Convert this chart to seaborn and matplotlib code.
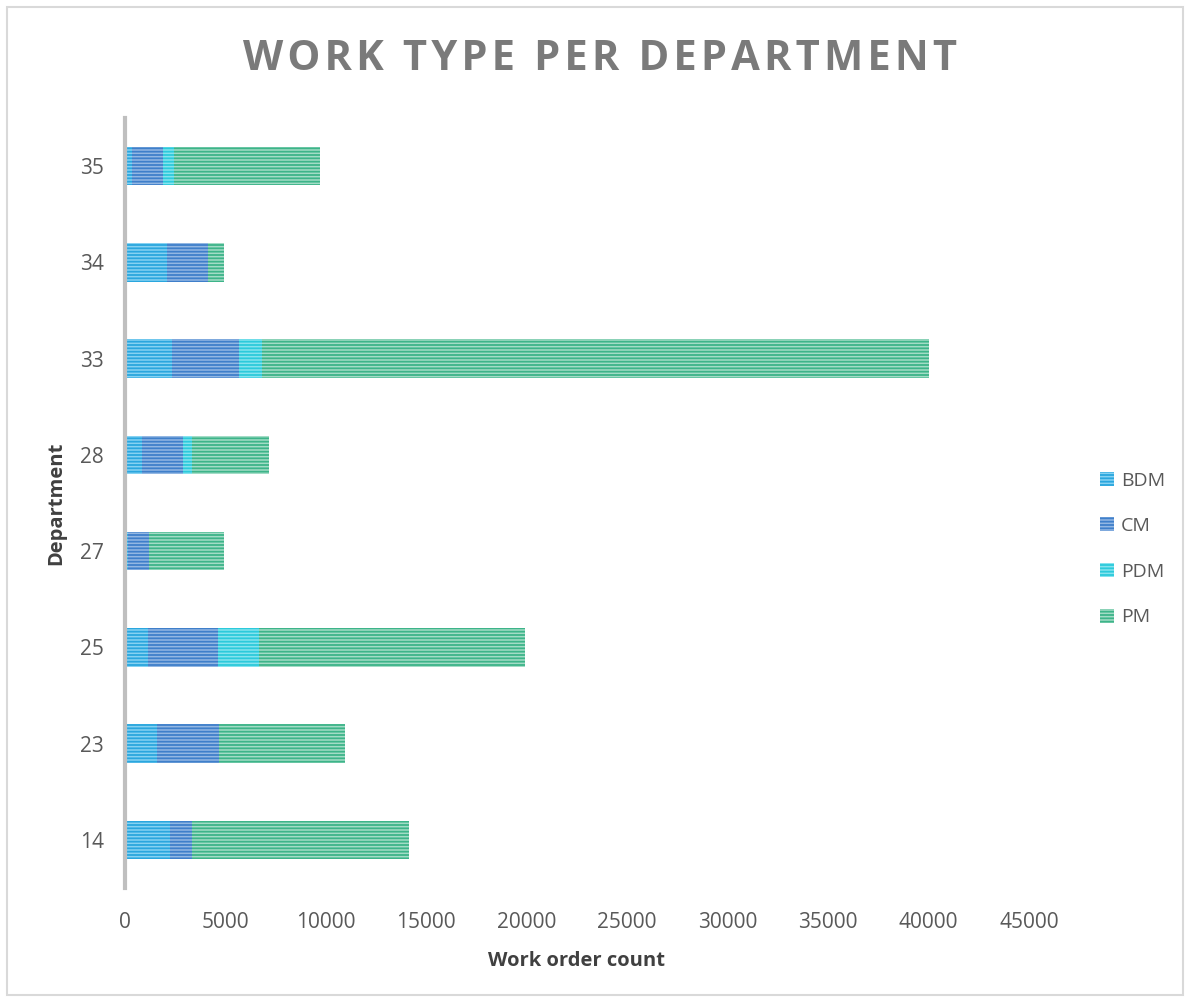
import matplotlib
matplotlib.use("Agg")
import matplotlib.pyplot as plt
import pandas as pd
import seaborn as sns
from matplotlib.patches import Patch, Rectangle

# Work orders per department, split by work type
departments = ["35", "34", "33", "28", "27", "25", "23", "14"]
bdm = [350, 2100, 2320, 830, 160, 1160, 1580, 2240]
cm = [1555, 2010, 3370, 2060, 1020, 3450, 3110, 1110]
pdm = [535, 0, 1140, 430, 0, 2070, 0, 0]
pm = [7260, 815, 33170, 3860, 3760, 13220, 6260, 10790]

series = ["BDM", "CM", "PDM", "PM"]
x_ticks = list(range(0, 45001, 5000))
title = "WORK TYPE PER DEPARTMENT"

face = {"BDM": "#86d2f2", "CM": "#93b7e3", "PDM": "#86e3ee", "PM": "#a3dcc6"}
line = {"BDM": "#2aa6de", "CM": "#3f7fca", "PDM": "#2ccadb", "PM": "#3db489"}

sns.set_theme(style="white")
plt.rcParams["font.family"] = ["Open Sans", "DejaVu Sans"]
plt.rcParams["hatch.linewidth"] = 1.3

df = pd.DataFrame({"Department": departments, "BDM": bdm, "CM": cm,
                   "PDM": pdm, "PM": pm})
cum = df[series].cumsum(axis=1)

W, H = 1189, 1001
fig = plt.figure(figsize=(W / 100, H / 100), dpi=100)
left, right, top, bottom = 125, 1029, 118, 888
ax = fig.add_axes([left / W, 1 - bottom / H, (right - left) / W, (bottom - top) / H])

# stacked bars: draw cumulative totals from the outermost segment inward
for s in reversed(series):
    n0 = len(ax.patches)
    sns.barplot(x=cum[s], y=df["Department"], order=departments, orient="h",
                color=face[s], saturation=1, width=0.4, errorbar=None, ax=ax)
    for p in ax.patches[n0:]:
        p.set_hatch("-----")
        p.set_edgecolor(line[s])
        p.set_linewidth(0)

ax.set_xlim(0, 45000)
ax.set_xticks(x_ticks)
ax.set_xticklabels([str(t) for t in x_ticks])
for sp in ["top", "right", "bottom"]:
    ax.spines[sp].set_visible(False)
ax.spines["left"].set_color("#bfbfbf")
ax.spines["left"].set_linewidth(3)
ax.tick_params(axis="both", length=0, labelsize=15, labelcolor="#595959")
ax.tick_params(axis="y", pad=15)
ax.tick_params(axis="x", pad=17)

ax.set_xlabel("Work order count", fontsize=14.5, fontweight="bold",
              color="#404040", labelpad=13)
ax.set_ylabel("Department", fontsize=14.5, fontweight="bold",
              color="#404040", labelpad=10)

# tracked-out title: hair spaces between the letters
spaced_title = "\u200a".join(title)
fig.text(0.505, 1 - 59 / H, spaced_title, ha="center", va="center",
         fontsize=30, fontweight="bold", color="#7a7a7a")

handles = [Patch(facecolor=face[s], edgecolor=line[s], hatch="-----",
                 linewidth=0, label=s) for s in series]
fig.legend(handles=handles, loc="center left",
           bbox_to_anchor=(1100 / W, 1 - 549 / H), frameon=False,
           fontsize=14, labelcolor="#595959", handlelength=0.72,
           handleheight=0.72, handletextpad=0.35, labelspacing=1.42,
           borderpad=0, borderaxespad=0)

fig.patches.append(Rectangle((7 / W, 6 / H), (1183 - 7) / W, (995 - 7) / H,
                             transform=fig.transFigure, fill=False,
                             edgecolor="#d9d9d9", linewidth=1.5))

fig.savefig("out.png", dpi=100)
